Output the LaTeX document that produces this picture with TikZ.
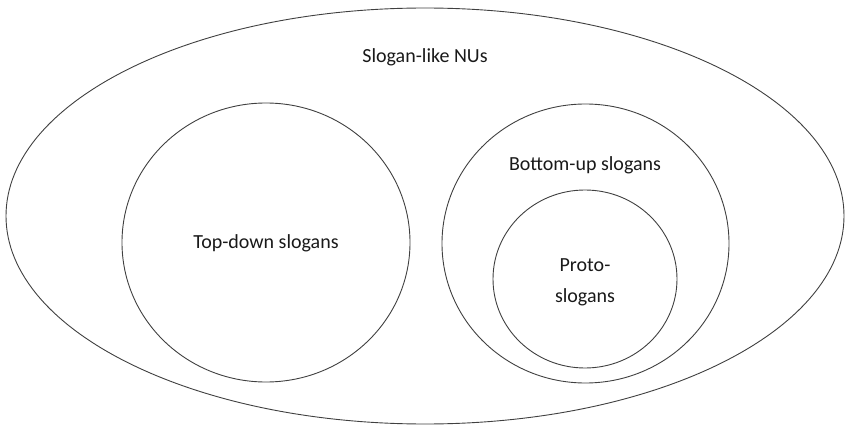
\documentclass[tikz,border=0pt]{standalone}
\usepackage{fontspec}
\setmainfont{Carlito}
\usetikzlibrary{shapes.geometric}
\begin{document}
\begin{tikzpicture}[x=1pt, y=-1pt,
                    line width=0.9pt,
                    draw=black!75,
                    font=\fontsize{20}{24}\selectfont,
                    ]
    \tikzstyle{set}=[ellipse,draw=black!75,line width=0.9pt,inner sep=0pt]
    \tikzstyle{setname}=[align=center,text=black!90,inner sep=1pt]

    \useasboundingbox (0,0) rectangle (846,425);

    \node[set, minimum width=838pt, minimum height=416pt] (nus) at (425,216) {};
    \node[set, minimum width=288pt, minimum height=279pt] (topdown) at (266,242.5) {};
    \node[set, minimum width=287pt, minimum height=279pt] (bottomup) at (585.5,243.5) {};
    \node[set, minimum width=184pt, minimum height=178pt] (proto) at (585,279) {};

    \node[setname] (nuslabel) at (425,57) {Slogan-like NUs};
    \node[setname] (toplabel) at (266,243) {Top-down slogans};
    \node[setname] (bottomlabel) at (585,165) {Bottom-up slogans};
    \node[setname, font=\fontsize{20}{31}\selectfont] (protolabel) at (585,282) {Proto-\\slogans};
\end{tikzpicture}
\end{document}
